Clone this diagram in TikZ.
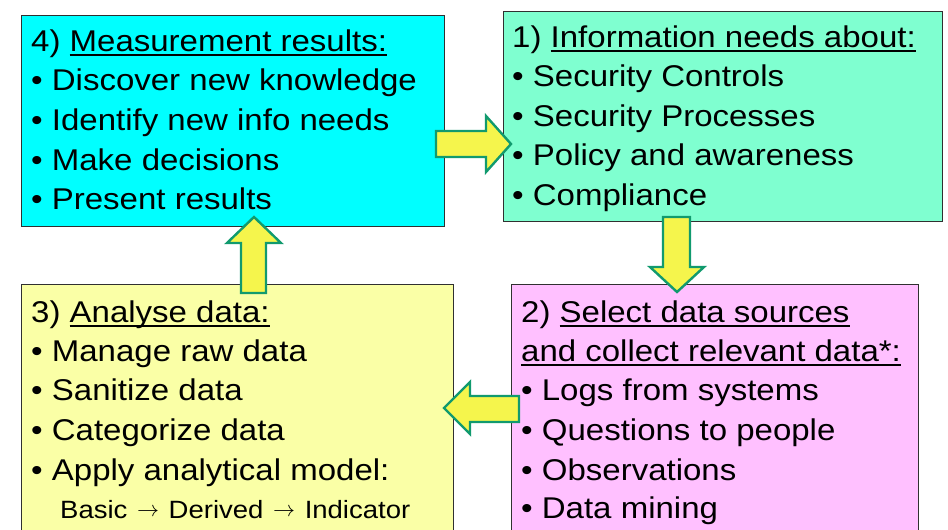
\documentclass[tikz,border=0pt]{standalone}
\usepackage{graphicx}
\usepackage{fontspec}
\setmainfont{Liberation Sans}[FakeStretch=1.10]
\newsavebox\ulbox
\newcommand\myul[1]{\sbox\ulbox{#1}\rlap{\rule[-5pt]{\wd\ulbox}{1.6pt}}\usebox\ulbox}
\newcommand\thinarrow{\hspace{2pt}\raisebox{2pt}{\resizebox{22pt}{!}{$\rightarrow$}}\hspace{2pt}}
\definecolor{cyanbox}{HTML}{00FFFF}
\definecolor{greenbox}{HTML}{7FFFD0}
\definecolor{yellowbox}{HTML}{FAFFA6}
\definecolor{pinkbox}{HTML}{FFC0FF}
\definecolor{arrowfill}{HTML}{F5F54C}
\definecolor{arrowedge}{HTML}{119A6E}
\definecolor{boxedge}{HTML}{303030}
\tikzset{
  box/.style={draw=boxedge, line width=1.3pt, anchor=north west, inner sep=0pt},
  txt/.style={anchor=base west, inner sep=0pt, font=\fontsize{30}{40}\selectfont},
  smalltxt/.style={anchor=base west, inner sep=0pt, font=\fontsize{25}{28}\selectfont},
  blockarrow/.style={draw=arrowedge, fill=arrowfill, line width=2.4pt, line join=miter}
}
\begin{document}
\begin{tikzpicture}[x=1pt,y=-1pt]
\useasboundingbox (0,0) rectangle (948,530);
\clip (0,0) rectangle (948,530);
% boxes
\node[box, fill=cyanbox, minimum width=423pt, minimum height=211pt] (b4) at (21,15) {};
\node[box, fill=greenbox, minimum width=439pt, minimum height=210pt] (b1) at (503,11) {};
\node[box, fill=yellowbox, minimum width=432pt, minimum height=270pt] (b3) at (21,284) {};
\node[box, fill=pinkbox, minimum width=407pt, minimum height=270pt] (b2) at (511,284) {};
% block arrows
\draw[blockarrow] (436,131) -- (486,131) -- (486,116) -- (511,144) -- (486,172) -- (486,157) -- (436,157) -- cycle;
\draw[blockarrow] (663,217) -- (690,217) -- (690,267) -- (704,267) -- (677,292) -- (650,267) -- (663,267) -- cycle;
\draw[blockarrow] (241,293) -- (241,243) -- (227,243) -- (254,217) -- (281,243) -- (266,243) -- (266,293) -- cycle;
\draw[blockarrow] (519,396) -- (470,396) -- (470,382) -- (444,408) -- (470,434) -- (470,422) -- (519,422) -- cycle;
% box 4 text
\node[txt] (t4a) at (31,51) {4) \myul{Measurement results:}};
\node[txt] (t4b) at (31,90.7) {• Discover new knowledge};
\node[txt] (t4c) at (31,130.4) {• Identify new info needs};
\node[txt] (t4d) at (31,170.1) {• Make decisions};
\node[txt] (t4e) at (31,209.8) {• Present results};
% box 1 text
\node[txt] (t1a) at (512,47) {1) \myul{Information needs about:}};
\node[txt] (t1b) at (512,86.5) {• Security Controls};
\node[txt] (t1c) at (512,126) {• Security Processes};
\node[txt] (t1d) at (512,165.5) {• Policy and awareness};
\node[txt] (t1e) at (512,205) {• Compliance};
% box 3 text
\node[txt] (t3a) at (31,322) {3) \myul{Analyse data:}};
\node[txt] (t3b) at (31,361) {• Manage raw data};
\node[txt] (t3c) at (31,400.5) {• Sanitize data};
\node[txt] (t3d) at (31,440) {• Categorize data};
\node[txt] (t3e) at (31,480) {• Apply analytical model:};
\node[smalltxt] (t3f) at (60,518) {Basic \thinarrow{} Derived \thinarrow{} Indicator};
% box 2 text
\node[txt] (t2a) at (521,322) {2) \myul{Select data sources}};
\node[txt] (t2b) at (521,361) {\myul{and collect relevant data*:}};
\node[txt] (t2c) at (521,400.5) {• Logs from systems};
\node[txt] (t2d) at (521,440) {• Questions to people};
\node[txt] (t2e) at (521,480) {• Observations};
\node[txt] (t2f) at (521,518) {• Data mining};
\end{tikzpicture}
\end{document}
